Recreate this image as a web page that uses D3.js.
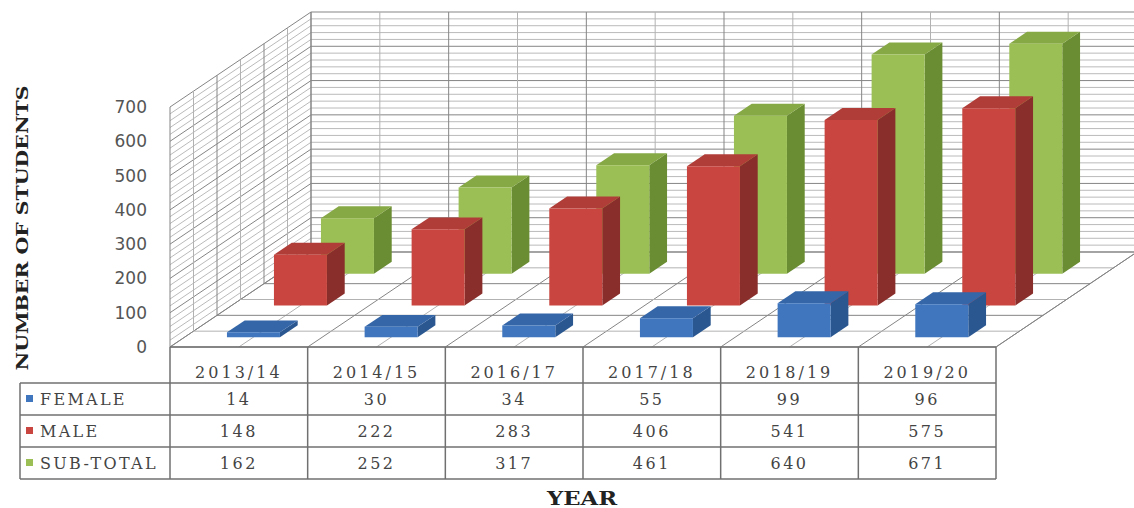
<!DOCTYPE html>
<html><head><meta charset="utf-8">
<script src="https://cdn.jsdelivr.net/npm/d3@7"></script>
<style>html,body{margin:0;padding:0;background:#fff;}svg{display:block;}</style>
</head><body>
<svg id="chart" width="1134" height="508"></svg>
<script>
const categories = ["2013/14","2014/15","2016/17","2017/18","2018/19","2019/20"];
const female = [14, 30, 34, 55, 99, 96];
const male = [148, 222, 283, 406, 541, 575];
const subTotal = [162, 252, 317, 461, 640, 671];
const seriesNames = ["FEMALE","MALE","SUB-TOTAL"];
const yTicks = [0,100,200,300,400,500,600,700];

const series = [
  {name: seriesNames[0], values: female, front:"#3F76BE", side:"#2B5790", top:"#3566A8"},
  {name: seriesNames[1], values: male, front:"#C8463F", side:"#8A2E2B", top:"#B03D38"},
  {name: seriesNames[2], values: subTotal, front:"#9BBF55", side:"#6A8C32", top:"#86A945"}
];

const svg = d3.select("#chart");
const X0 = 170, X1 = 996, YB = 347, YT = 107;
const DX = 141, DY = 95;
const x = d3.scaleBand().domain(categories).range([X0, X1]);
const y = d3.scaleLinear().domain([0, 700]).range([YB, YT]);
const P = (xf, v, d) => [xf + DX*d, y(v) - DY*d];
const line = (a, b) => `M${a[0]},${a[1]}L${b[0]},${b[1]}`;
const poly = pts => "M" + pts.map(p => p.join(",")).join("L") + "Z";

const g = svg.append("g");
// walls
g.append("path").attr("d", poly([P(X0,0,0),P(X0,700,0),P(X0,700,1),P(X0,0,1)])).attr("fill","#fff");
g.append("path").attr("d", poly([P(X0,0,1),P(X0,700,1),P(X1,700,1),P(X1,0,1)])).attr("fill","#fff");

const minor = d3.range(0, 701, 20);
const grid = g.append("g").attr("fill","none");
minor.forEach(v => {
  const major = v % 100 === 0;
  const c = major ? "#858585" : "#b2b2b2";
  const w = major ? 1 : 0.9;
  grid.append("path").attr("d", line(P(X0,v,1), P(X1,v,1))).attr("stroke", c).attr("stroke-width", w);
  grid.append("path").attr("d", line(P(X0,v,0), P(X0,v,1))).attr("stroke", c).attr("stroke-width", w);
});
// category verticals on back wall + floor diagonals
const catLines = [];
categories.forEach(c => { catLines.push([x(c), true]); catLines.push([x(c) + x.bandwidth()/2, false]); });
catLines.push([X1, true]);
catLines.forEach(([xf, major]) => {
  const c = major ? "#858585" : "#b2b2b2";
  grid.append("path").attr("d", line(P(xf,0,1), P(xf,700,1))).attr("stroke", c).attr("stroke-width", 1);
  grid.append("path").attr("d", line(P(xf,0,0), P(xf,0,1))).attr("stroke", c).attr("stroke-width", 1);
});
// depth lines on side wall and floor
d3.range(0, 7).forEach(k => {
  const d = k/6;
  const c = k % 2 === 0 ? "#858585" : "#b2b2b2";
  grid.append("path").attr("d", line(P(X0,0,d), P(X0,700,d))).attr("stroke", c).attr("stroke-width", 1);
  grid.append("path").attr("d", line(P(X0,0,d), P(X1,0,d))).attr("stroke", c).attr("stroke-width", 1);
});

// bars
const barW = x.bandwidth() * 0.385;
const bd = 0.126;
[2,1,0].forEach(si => {
  const s = series[si];
  const d0 = si/3 + 1/6 - bd/2, d1 = d0 + bd;
  const bg = g.append("g");
  categories.forEach((c, i) => {
    const v = s.values[i];
    const xa = x(c) + (x.bandwidth() - barW)/2, xb = xa + barW;
    bg.append("path").attr("d", poly([P(xb,0,d0),P(xb,0,d1),P(xb,v,d1),P(xb,v,d0)])).attr("fill", s.side);
    bg.append("path").attr("d", poly([P(xa,v,d0),P(xb,v,d0),P(xb,v,d1),P(xa,v,d1)])).attr("fill", s.top);
    bg.append("path").attr("d", poly([P(xa,0,d0),P(xb,0,d0),P(xb,v,d0),P(xa,v,d0)])).attr("fill", s.front);
  });
});

// y tick labels
g.append("g").selectAll("text").data(yTicks).join("text")
  .attr("x", 147).attr("y", d => y(d) + 6)
  .attr("text-anchor","end").attr("font-family","DejaVu Sans").attr("font-size",17)
  .attr("fill","#555").text(d => d);

// y title
g.append("text").attr("transform","translate(28,228) rotate(-90)")
  .attr("text-anchor","middle").attr("font-family","DejaVu Serif").attr("font-weight","bold")
  .attr("font-size",16).attr("fill","#222").attr("textLength",285).attr("lengthAdjust","spacingAndGlyphs")
  .text("NUMBER OF STUDENTS");

// table
const tg = g.append("g");
const rowY = [347, 383, 415, 447, 479];
const tStroke = "#707070";
tg.append("path").attr("d", line([X0,rowY[0]],[X1,rowY[0]])).attr("stroke",tStroke).attr("stroke-width",1.5);
[1,2,3,4].forEach(r => tg.append("path").attr("d", line([20,rowY[r]],[X1,rowY[r]])).attr("stroke",tStroke).attr("stroke-width",1.5));
categories.forEach(c => tg.append("path").attr("d", line([x(c),rowY[0]],[x(c),rowY[4]])).attr("stroke",tStroke).attr("stroke-width",1.5));
tg.append("path").attr("d", line([X1,rowY[0]],[X1,rowY[4]])).attr("stroke",tStroke).attr("stroke-width",1.5);
tg.append("path").attr("d", line([20,rowY[1]],[20,rowY[4]])).attr("stroke",tStroke).attr("stroke-width",1.5);
// floor right edge
tg.append("path").attr("d", line(P(X1,0,0), P(X1,0,1))).attr("stroke","#858585").attr("stroke-width",1);

const tf = {family:"DejaVu Serif", size:16, fill:"#444"};
categories.forEach(c => {
  tg.append("text").attr("x", x(c)+x.bandwidth()/2).attr("y", 378)
    .attr("text-anchor","middle").attr("font-family",tf.family).attr("font-size",tf.size)
    .attr("letter-spacing",3).attr("fill",tf.fill).text(c);
});
series.forEach((s, r) => {
  const yc = (rowY[r+1] + rowY[r+2]) / 2;
  tg.append("rect").attr("x",26).attr("y",yc-4).attr("width",7).attr("height",7).attr("fill",s.front);
  tg.append("text").attr("x",40).attr("y",yc+6).attr("font-family",tf.family).attr("font-size",tf.size)
    .attr("letter-spacing",2.3).attr("fill",tf.fill).text(s.name);
  categories.forEach((c, i) => {
    tg.append("text").attr("x", x(c)+x.bandwidth()/2).attr("y", yc+6)
      .attr("text-anchor","middle").attr("font-family",tf.family).attr("font-size",tf.size)
      .attr("letter-spacing",2.5).attr("fill",tf.fill).text(s.values[i]);
  });
});

// x title
g.append("text").attr("x",582).attr("y",505).attr("text-anchor","middle")
  .attr("font-family","DejaVu Serif").attr("font-weight","bold").attr("font-size",19)
  .attr("fill","#222").attr("textLength",70).attr("lengthAdjust","spacingAndGlyphs").text("YEAR");
</script>
</body></html>
